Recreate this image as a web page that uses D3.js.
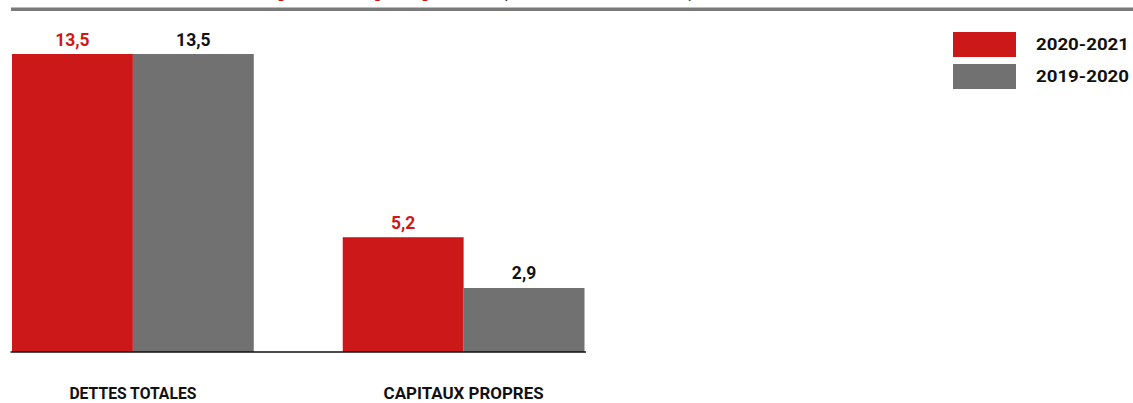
<!DOCTYPE html>
<html>
<head>
<meta charset="utf-8">
<script src="https://cdn.jsdelivr.net/npm/d3@7"></script>
<style>
  html, body { margin: 0; padding: 0; background: #fff; }
  svg { display: block; }
  text { font-family: Roboto, "Noto Sans", sans-serif; }
</style>
</head>
<body>
<div id="chart"></div>
<script>
// ---- data ----
const categories = ["DETTES TOTALES", "CAPITAUX PROPRES"];
const seriesNames = ["2020-2021", "2019-2020"];
const values2021 = [13.5, 5.2];
const values2020 = [13.5, 2.9];
const valueLabels2021 = ["13,5", "5,2"];
const valueLabels2020 = ["13,5", "2,9"];
const titleMain = "Dettes et capitaux propres";
const titleSub = "(en millions $)";

// ---- styles ----
const W = 1133, H = 403;
const RED = "#cd181a", GRAY = "#717171";
const colors = [RED, GRAY];
const labelColors = [RED, "#111"];

const svg = d3.select("#chart").append("svg").attr("width", W).attr("height", H);

// clipped title (only descenders visible at top, as in the reference)
const tMain = svg.append("text").attr("y", -5.2).attr("x", 0)
  .attr("font-size", 32).attr("font-weight", 700).attr("fill", RED).text(titleMain);
const pIdx = titleMain.indexOf("p");
const pPos = tMain.node().getStartPositionOfChar(pIdx).x;
tMain.attr("x", 277 - pPos);
svg.append("text").attr("y", -6.2).attr("x", 497)
  .attr("font-size", 32).attr("font-weight", 400).attr("fill", "#222").text(titleSub);

// top rule
svg.append("rect").attr("x", 11).attr("y", 7.5).attr("width", W - 11).attr("height", 3.5).attr("fill", "#7a7a7a");

// scales
const x0 = d3.scaleBand().domain(categories).range([12, 584.5]).paddingInner(0.269).paddingOuter(0);
const x1 = d3.scaleBand().domain(seriesNames).range([0, x0.bandwidth()]).padding(0);
const y = d3.scaleLinear().domain([0, 13.5]).range([352, 54]);

const rows = categories.map((c, i) => ({
  cat: c,
  vals: [
    { s: seriesNames[0], v: values2021[i], lab: valueLabels2021[i], k: 0 },
    { s: seriesNames[1], v: values2020[i], lab: valueLabels2020[i], k: 1 }
  ]
}));

const g = svg.selectAll("g.grp").data(rows).join("g")
  .attr("class", "grp")
  .attr("transform", d => `translate(${x0(d.cat)},0)`);

g.selectAll("rect").data(d => d.vals).join("rect")
  .attr("x", d => x1(d.s))
  .attr("y", d => y(d.v))
  .attr("width", x1.bandwidth())
  .attr("height", d => y(0) - y(d.v))
  .attr("fill", d => colors[d.k]);

g.selectAll("text.val").data(d => d.vals).join("text")
  .attr("class", "val")
  .attr("x", d => x1(d.s) + x1.bandwidth() / 2)
  .attr("y", d => y(d.v) - 8.5)
  .attr("text-anchor", "middle")
  .attr("font-size", 17.5).attr("font-weight", 700)
  .attr("fill", d => labelColors[d.k])
  .text(d => d.lab);

// x axis
const ax = svg.append("g").attr("transform", `translate(0,${y(0)})`)
  .call(d3.axisBottom(x0).tickSize(0).tickSizeOuter(0).tickPadding(35));
ax.select(".domain").attr("stroke", "#111").attr("stroke-width", 1.6)
  .attr("d", "M10.5,0H586");
const catWidths = [127, 160];
ax.selectAll(".tick text")
  .attr("font-family", "Roboto, sans-serif")
  .attr("font-size", 17).attr("font-weight", 700).attr("fill", "#111")
  .attr("textLength", (d, i) => catWidths[i])
  .attr("lengthAdjust", "spacingAndGlyphs");

// legend
const lg = svg.append("g").attr("transform", "translate(953,32)");
const li = lg.selectAll("g").data(seriesNames).join("g")
  .attr("transform", (d, i) => `translate(0,${i * 32})`);
li.append("rect").attr("width", 63).attr("height", 25).attr("fill", (d, i) => colors[i]);
li.append("text").attr("x", 83).attr("y", 17.5)
  .attr("font-size", 17).attr("font-weight", 700).attr("fill", "#111")
  .attr("textLength", 93).attr("lengthAdjust", "spacingAndGlyphs")
  .text(d => d);
</script>
</body>
</html>
